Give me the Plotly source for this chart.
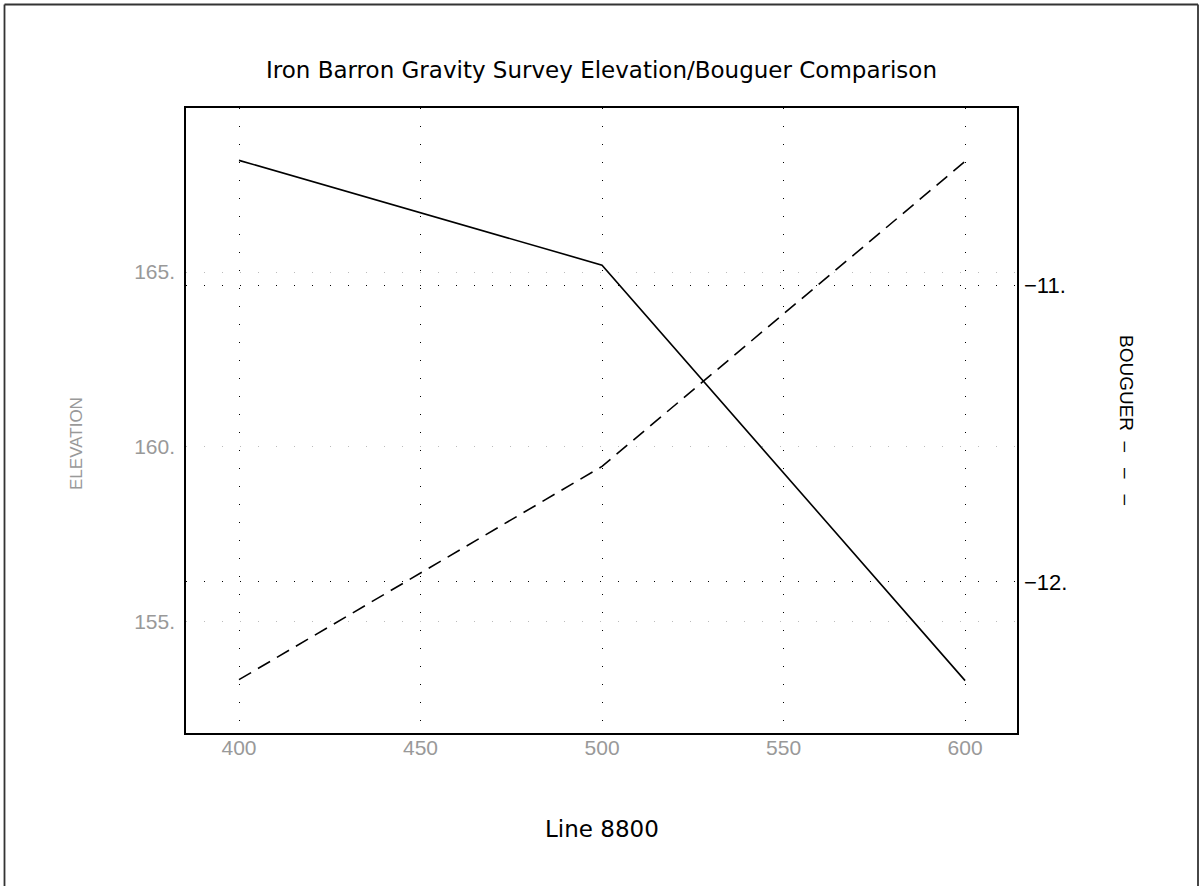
import plotly.graph_objects as go

# Data
station = [400, 500, 600]
elevation = [168.2, 165.2, 153.3]
bouguer = [-12.33, -11.61, -10.58]

x_ticks = [400, 450, 500, 550, 600]
x_tick_labels = ["400", "450", "500", "550", "600"]
elev_ticks = [155, 160, 165]
elev_tick_labels = ["155.", "160.", "165."]
boug_ticks = [-12, -11]
boug_tick_labels = ["\u221212.", "\u221211."]

fig = go.Figure()
fig.add_trace(go.Scatter(x=station, y=elevation, mode="lines",
                         line=dict(color="black", width=1.6), yaxis="y", showlegend=False))
fig.add_trace(go.Scatter(x=station, y=bouguer, mode="lines",
                         line=dict(color="black", width=1.6, dash="14px,8px"), yaxis="y2", showlegend=False))

W, H = 1200, 886
L, R, T, B = 186, 1017, 108, 733
pw, ph = R - L, B - T

def px(x):
    return (x - L) / pw

def py(y):
    return (B - y) / ph

GRAY = "#999999"
NB = "\u00a0"

fig.update_layout(
    width=W, height=H,
    margin=dict(l=L, r=W - R, t=T, b=H - B, pad=0),
    paper_bgcolor="white", plot_bgcolor="white",
    font=dict(family="DejaVu Sans", color="black"),
    xaxis=dict(range=[385.4, 614.3], tickvals=x_ticks, ticktext=x_tick_labels,
               showline=True, linecolor="black", linewidth=1.6, mirror=True,
               ticks="", showgrid=True, gridcolor="black", gridwidth=1,
               griddash="1px,17px", zeroline=False, ticklabelstandoff=-5,
               tickfont=dict(family="Liberation Sans", size=21, color=GRAY)),
    yaxis=dict(range=[151.8, 169.7], tickvals=elev_ticks, ticktext=elev_tick_labels,
               showline=True, linecolor="black", linewidth=1.6, mirror=True,
               ticks="", showgrid=True, gridcolor="#bbbbbb", gridwidth=1,
               griddash="1px,17px", zeroline=False, ticklabelstandoff=5,
               tickfont=dict(family="Liberation Sans", size=21, color=GRAY)),
    yaxis2=dict(range=[-12.51, -10.40], tickvals=boug_ticks, ticktext=boug_tick_labels,
                overlaying="y", side="right", showline=False, ticks="",
                showgrid=True, gridcolor="black", gridwidth=1, griddash="1px,17px",
                zeroline=False, ticklabelstandoff=6,
                tickfont=dict(family="Liberation Sans", size=22, color="black")),
    shapes=[
        dict(type="line", xref="paper", yref="paper", x0=px(4.5), x1=px(4.5), y0=py(4.5), y1=py(900),
             line=dict(color="#333333", width=1.8)),
        dict(type="line", xref="paper", yref="paper", x0=px(4.5), x1=px(1198), y0=py(4.5), y1=py(4.5),
             line=dict(color="#333333", width=1.8)),
        dict(type="line", xref="paper", yref="paper", x0=px(1198), x1=px(1198), y0=py(4.5), y1=py(900),
             line=dict(color="#333333", width=1.8)),
    ],
    annotations=[
        dict(text="Iron Barron Gravity Survey Elevation/Bouguer Comparison", xref="paper", yref="paper",
             x=px(601), y=py(70), showarrow=False, xanchor="center", yanchor="middle",
             font=dict(family="DejaVu Sans", size=23, color="black")),
        dict(text="Line 8800", xref="paper", yref="paper",
             x=px(602), y=py(829), showarrow=False, xanchor="center", yanchor="middle",
             font=dict(family="DejaVu Sans", size=23, color="black")),
        dict(text="ELEVATION", xref="paper", yref="paper", textangle=-90,
             x=px(76), y=py(444), showarrow=False, xanchor="center", yanchor="middle",
             font=dict(family="Liberation Sans", size=17, color=GRAY)),
        dict(text="BOUGUER" + NB * 2 + "\u2013" + NB * 3 + "\u2013" + NB * 3 + "\u2013", xref="paper", yref="paper", textangle=90,
             x=px(1127), y=py(420), showarrow=False, xanchor="center", yanchor="middle",
             font=dict(family="Liberation Sans", size=19, color="black")),
    ],
)

fig.write_html("out.html", config={"displayModeBar": False},
               post_script="document.body.style.margin='0px';")
